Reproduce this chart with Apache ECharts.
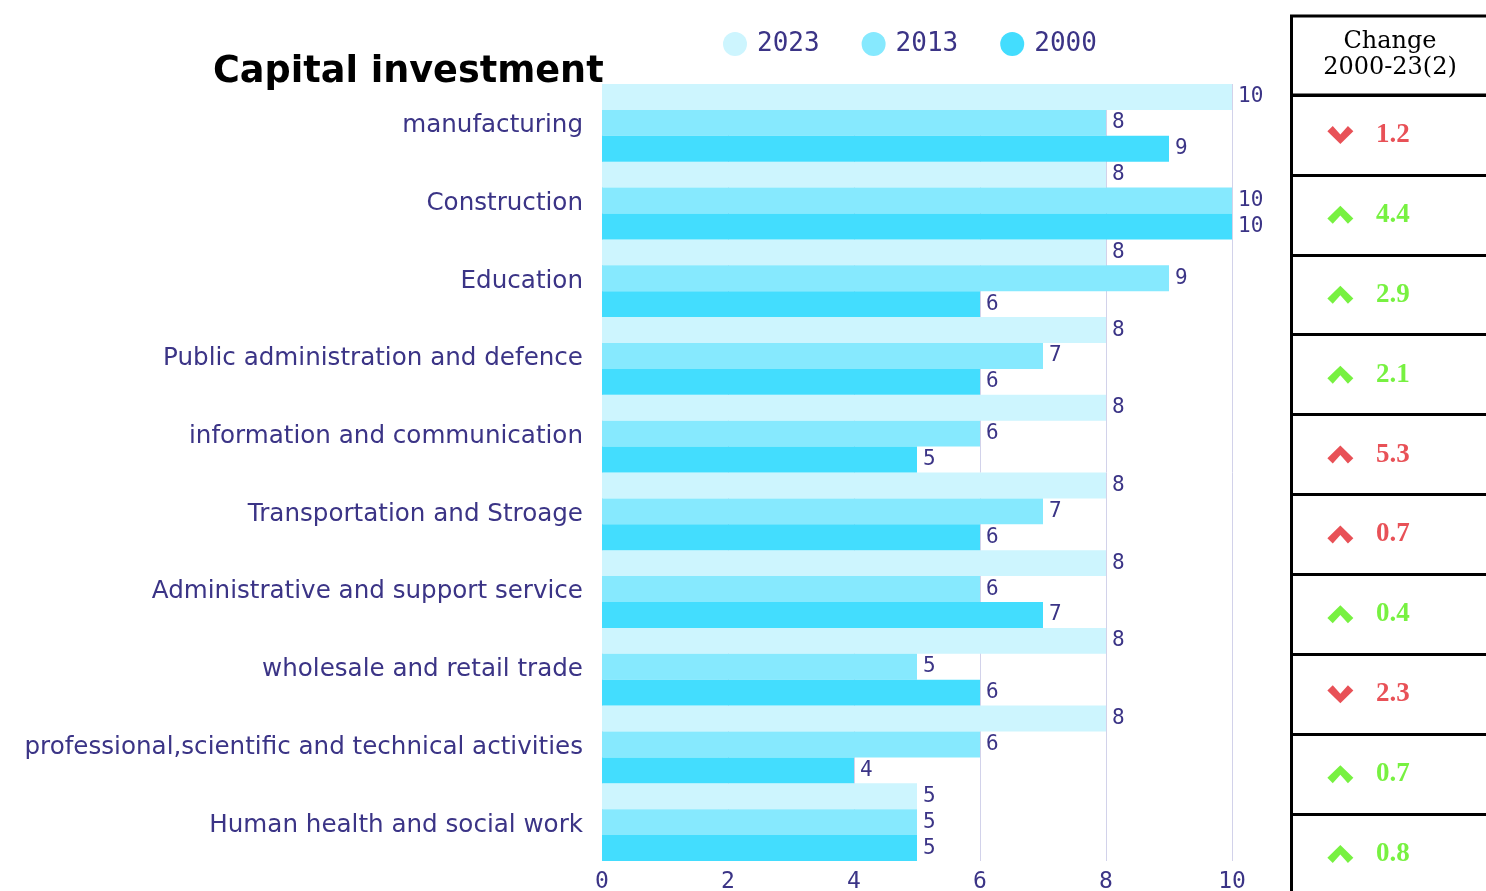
<!DOCTYPE html>
<html>
<head>
<meta charset="utf-8">
<script src="https://cdn.jsdelivr.net/npm/echarts@6/dist/echarts.min.js"></script>
<style>
html,body{margin:0;padding:0;background:#fff;}
#main{width:1486px;height:891px;}
</style>
</head>
<body>
<div id="main"></div>
<script>
// sectors, top to bottom
var sectors = ['manufacturing', 'Construction', 'Education', 'Public administration and defence',
  'information and communication', 'Transportation and Stroage', 'Administrative and support service',
  'wholesale and retail trade', 'professional,scientific and technical activities', 'Human health and social work'];
var years = ['2023', '2013', '2000'];
var v2023 = [10, 8, 8, 8, 8, 8, 8, 8, 8, 5];
var v2013 = [8, 10, 9, 7, 6, 7, 6, 5, 6, 5];
var v2000 = [9, 10, 6, 6, 5, 6, 7, 6, 4, 5];
// change column
var changeVal = ['1.2', '4.4', '2.9', '2.1', '5.3', '0.7', '0.4', '2.3', '0.7', '0.8'];
var changeDir = ['down', 'up', 'up', 'up', 'up', 'up', 'up', 'down', 'up', 'up'];
var changeGood = [false, true, true, true, false, false, true, false, true, true];

var ink = '#3b3486';
var numFont = 'DejaVu Sans Mono';
var txtFont = 'DejaVu Sans';
var colors = ['#cdf5fe', '#86e9fe', '#43ddfe'];
var red = '#e2262d', green = '#55ee11';
var chevron = 'path://M0,12 L12,0 L24,12 L19,17 L12,9 L5,17 Z';

var vals = [v2023, v2013, v2000];
var series = years.map(function (y, i) {
  return {
    name: y, type: 'bar', xAxisIndex: 0, yAxisIndex: 0,
    barGap: '0%', barCategoryGap: '0%',
    itemStyle: { color: colors[i] },
    label: { show: true, position: 'right', distance: 6, color: ink, fontFamily: numFont, fontSize: 21 },
    data: vals[i],
    z: 3
  };
});

series.push({
  type: 'scatter', xAxisIndex: 1, yAxisIndex: 1,
  symbol: chevron, symbolSize: [26, 18],
  data: changeVal.map(function (v, i) {
    return {
      value: [0.235, i],
      symbolRotate: changeDir[i] === 'down' ? 180 : 0,
      itemStyle: { color: changeGood[i] ? green : red }
    };
  }),
  silent: true
});
series.push({
  type: 'scatter', xAxisIndex: 1, yAxisIndex: 1,
  symbolSize: 0,
  data: changeVal.map(function (v, i) {
    return {
      value: [0.485, i],
      label: { show: true, position: 'inside', formatter: v, color: changeGood[i] ? green : red,
        fontFamily: 'Liberation Serif', fontWeight: 'bold', fontSize: 27 }
    };
  }),
  silent: true
});

var chart = echarts.init(document.getElementById('main'));
chart.setOption({
  animation: false,
  backgroundColor: '#fff',
  title: {
    text: 'Capital investment', left: 208, top: 49,
    textStyle: { fontFamily: 'DejaVu Sans', fontWeight: 'bold', fontSize: 36.6, color: '#000' }
  },
  legend: {
    data: years, top: 26, left: 718, itemGap: 42, itemWidth: 24, itemHeight: 24, icon: 'circle',
    textStyle: { color: ink, fontFamily: numFont, fontSize: 26, padding: [0, 0, 0, 5] }
  },
  grid: [
    { left: 602, right: 254, top: 84, bottom: 30, outerBoundsMode: 'none' },
    { left: 1291, width: 210, top: 95, height: 799, outerBoundsMode: 'none' }
  ],
  xAxis: [
    {
      type: 'value', gridIndex: 0, min: 0, max: 10, interval: 2,
      axisLine: { show: false }, axisTick: { show: false },
      axisLabel: { color: ink, fontFamily: numFont, fontSize: 23, margin: 10 },
      splitLine: { show: true, lineStyle: { color: '#d2d2ea', width: 1 } }
    },
    { type: 'value', gridIndex: 1, min: 0, max: 1, show: false }
  ],
  yAxis: [
    {
      type: 'category', gridIndex: 0, data: sectors, inverse: true,
      axisLine: { show: false }, axisTick: { show: false },
      axisLabel: {
        margin: 19,
        formatter: function (v) { return '{s|' + v + '}'; },
        rich: { s: { color: ink, fontFamily: txtFont, fontSize: 24.6, padding: [6, 0, 0, 0] } }
      }
    },
    {
      type: 'category', gridIndex: 1, data: changeVal, inverse: true,
      axisLine: { show: true, lineStyle: { color: '#000', width: 3 } },
      axisTick: { show: false }, axisLabel: { show: false },
      splitLine: { show: true, lineStyle: { color: '#000', width: 3 } }
    }
  ],
  graphic: [
    {
      type: 'rect', shape: { x: 1291.5, y: 16, width: 220, height: 79 },
      style: { fill: 'none', stroke: '#000', lineWidth: 3 }
    },
    {
      type: 'text', x: 1390, y: 55,
      style: { text: 'Change\n2000-23(2)', fill: '#000', font: '24px "DejaVu Serif"',
        align: 'center', verticalAlign: 'middle', lineHeight: 26 }
    }
  ],
  series: series
});
</script>
</body>
</html>
